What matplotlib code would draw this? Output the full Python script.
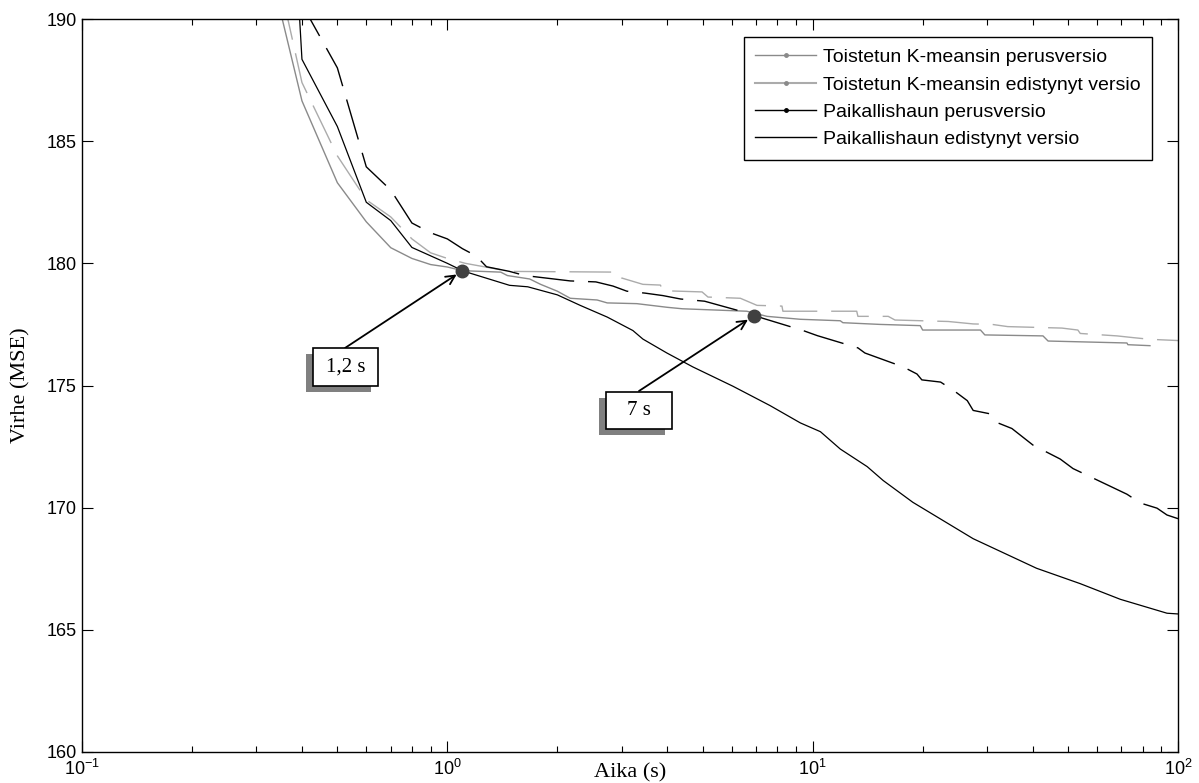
import matplotlib
matplotlib.use("Agg")
import matplotlib.pyplot as plt
from matplotlib.lines import Line2D
from matplotlib.patches import Rectangle
from matplotlib.ticker import LogLocator, FixedLocator

plt.rcParams["font.family"] = ["Liberation Sans", "DejaVu Sans"]
plt.rcParams["mathtext.fontset"] = "custom"
plt.rcParams["mathtext.rm"] = "Liberation Sans"
plt.rcParams["mathtext.it"] = "Liberation Sans"
plt.rcParams["axes.unicode_minus"] = False
plt.rcParams["lines.scale_dashes"] = False

# time (s) and error (MSE)
kmeans_base_t = [0.3, 0.4, 0.5, 0.6, 0.7, 0.8, 0.9, 1.0, 1.1, 1.4, 1.46, 1.68, 1.8, 2.0, 2.17,
                 2.57, 2.74, 3.3, 4.0, 4.4, 6.6, 7.5, 9.25, 11.9, 12.1, 15.3, 19.7, 20.0, 28.8,
                 29.6, 42.7, 44.1, 72.5, 72.9, 83.8]
kmeans_base_e = [194.4, 186.65, 183.3, 181.7, 180.64, 180.2, 179.95, 179.85, 179.7, 179.64, 179.5,
                 179.36, 179.14, 178.86, 178.57, 178.5, 178.38, 178.35, 178.2, 178.14, 178.04,
                 177.83, 177.71, 177.65, 177.57, 177.5, 177.45, 177.27, 177.27, 177.07, 177.03,
                 176.82, 176.74, 176.67, 176.63]

kmeans_adv_t = [0.3, 0.4, 0.5, 0.6, 0.7, 0.8, 0.9, 1.0, 1.12, 1.48, 2.95, 3.0, 3.43, 3.83, 3.89,
                4.98, 5.17, 6.34, 7.04, 8.24, 8.29, 13.2, 13.3, 16.1, 16.8, 23.5, 27.5, 31.0,
                34.2, 48.1, 53.2, 54.0, 68.1, 75.3, 83.8, 100]
kmeans_adv_e = [195.8, 187.4, 184.4, 182.6, 181.9, 181.0, 180.43, 180.2, 180.0, 179.67, 179.64,
                179.4, 179.14, 179.11, 178.88, 178.83, 178.62, 178.57, 178.28, 178.25, 178.04,
                178.04, 177.83, 177.83, 177.68, 177.62, 177.52, 177.5, 177.41, 177.35, 177.27,
                177.13, 177.03, 176.96, 176.89, 176.84]

local_base_t = [0.3, 0.4, 0.5, 0.6, 0.7, 0.8, 0.9, 1.0, 1.1, 1.2, 1.28, 1.48, 1.63, 2.17, 2.55,
                2.84, 3.1, 3.48, 3.89, 4.35, 5.06, 6.61, 7.31, 9.41, 10.3, 13.3, 13.9, 17.7,
                19.3, 19.9, 22.4, 24.5, 26.5, 27.5, 30.6, 32.0, 35.1, 40.1, 47.6, 51.6, 56.7,
                72.5, 78.9, 87.6, 93.3, 100]
local_base_e = [200, 190.6, 188.0, 183.95, 183.0, 181.65, 181.25, 181.0, 180.6, 180.3, 179.86,
                179.67, 179.5, 179.28, 179.24, 179.07, 178.86, 178.78, 178.68, 178.54, 178.45,
                177.97, 177.75, 177.25, 177.04, 176.54, 176.33, 175.76, 175.47, 175.23, 175.14,
                174.76, 174.38, 173.98, 173.84, 173.48, 173.24, 172.56, 171.99, 171.6, 171.31,
                170.55, 170.19, 169.98, 169.7, 169.55]

local_adv_t = [0.3, 0.4, 0.5, 0.6, 0.7, 0.8, 1.0, 1.1, 1.13, 1.48, 1.66, 2.0, 2.31, 2.74, 3.22,
               3.43, 3.99, 4.7, 6.05, 7.64, 9.25, 10.5, 11.9, 14.1, 15.6, 18.8, 27.5, 41.0,
               54.0, 69.5, 93.3, 100]
local_adv_e = [221, 188.35, 185.6, 182.5, 181.75, 180.65, 180.0, 179.7, 179.64, 179.1, 179.04,
               178.71, 178.28, 177.8, 177.25, 176.9, 176.33, 175.76, 174.97, 174.18, 173.47,
               173.11, 172.4, 171.68, 171.11, 170.22, 168.73, 167.52, 166.89, 166.25, 165.68,
               165.65]

mark_t = [1.1, 6.9]
mark_e = [179.7, 177.85]
mark_labels = ["1,2 s", "7 s"]

legend_labels = ["Toistetun K-meansin perusversio", "Toistetun K-meansin edistynyt versio",
                 "Paikallishaun perusversio", "Paikallishaun edistynyt versio"]

fig = plt.figure(figsize=(11.99, 7.83), dpi=100)
ax = fig.add_axes([82 / 1199, 31 / 783, 1096 / 1199, 733 / 783])

grey1 = "#8a8a8a"
grey2 = "#ababab"
dash = (0, (30, 10))

ax.plot(kmeans_adv_t, kmeans_adv_e, color=grey2, lw=1.0, ls=dash)
ax.plot(kmeans_base_t, kmeans_base_e, color=grey1, lw=1.0)
ax.plot(local_base_t, local_base_e, color="black", lw=1.0, ls=dash)
ax.plot(local_adv_t, local_adv_e, color="black", lw=0.9)

ax.plot(mark_t, mark_e, "o", color="#404040", ms=9, zorder=7)

ax.set_xscale("log")
ax.set_xlim(0.1, 100)
ax.set_ylim(160, 190)
ax.yaxis.set_major_locator(FixedLocator([160, 165, 170, 175, 180, 185, 190]))
ax.xaxis.set_major_locator(LogLocator(base=10, numticks=10))
ax.xaxis.set_minor_locator(LogLocator(base=10, subs=range(2, 10), numticks=10))
ax.tick_params(which="both", direction="in", top=True, right=True, labelsize=13)
ax.tick_params(which="major", length=8, width=0.8)
ax.tick_params(which="minor", length=4, width=0.8)
ax.tick_params(axis="x", pad=5)
ax.tick_params(axis="y", pad=4)
for sp in ax.spines.values():
    sp.set_linewidth(1.0)

ax.set_xlabel("Aika (s)", family="Liberation Serif", fontsize=16)
ax.set_ylabel("Virhe (MSE)", family="Liberation Serif", fontsize=16)
ax.xaxis.set_label_coords(0.5, -0.015)
ax.yaxis.set_label_coords(-0.047, 0.5)

# annotation boxes (axes fraction): left, bottom, width, height, arrow start
boxes = [(0.2108, 0.4993, 0.0593, 0.0519, 0.240, 0.5512),
         (0.4781, 0.4407, 0.0602, 0.0504, 0.5082, 0.4925)]
for (bx, by, bw, bh, axs, ays), lab, t, e in zip(boxes, mark_labels, mark_t, mark_e):
    ax.add_patch(Rectangle((bx - 0.0064, by - 0.0082), bw, bh, transform=ax.transAxes,
                           fc="#808080", ec="none", zorder=8))
    ax.add_patch(Rectangle((bx, by), bw, bh, transform=ax.transAxes,
                           fc="white", ec="black", lw=1.2, zorder=9))
    ax.text(bx + bw / 2, by + bh / 2, lab, transform=ax.transAxes, ha="center", va="center",
            family="Liberation Serif", fontsize=15, zorder=10)
    ax.annotate("", xy=(t, e), xycoords="data", xytext=(axs, ays), textcoords="axes fraction",
                arrowprops=dict(arrowstyle="->", color="black", lw=1.3, shrinkA=0, shrinkB=5,
                                mutation_scale=16), zorder=6)

handles = [Line2D([0, 0.5, 1], [0, 0, 0], color=grey1, lw=1.0, marker=".", ms=5, markevery=[1]),
           Line2D([0, 0.5, 1], [0, 0, 0], color=grey2, lw=1.5, marker=".", ms=5, mfc=grey1,
                  mec=grey1, markevery=[1]),
           Line2D([0, 0.5, 1], [0, 0, 0], color="black", lw=1.0, marker=".", ms=5, markevery=[1]),
           Line2D([], [], color="black", lw=1.0)]
leg = ax.legend(handles, legend_labels, loc="upper right",
                bbox_to_anchor=((1152 - 82) / 1096, (752 - 37) / 733),
                borderaxespad=0, fontsize=14, handlelength=3.1, handletextpad=0.36,
                labelspacing=0.5, borderpad=0.6, fancybox=False, framealpha=1,
                edgecolor="black")
leg.get_frame().set_linewidth(1.0)

fig.savefig("out.png", dpi=100)
